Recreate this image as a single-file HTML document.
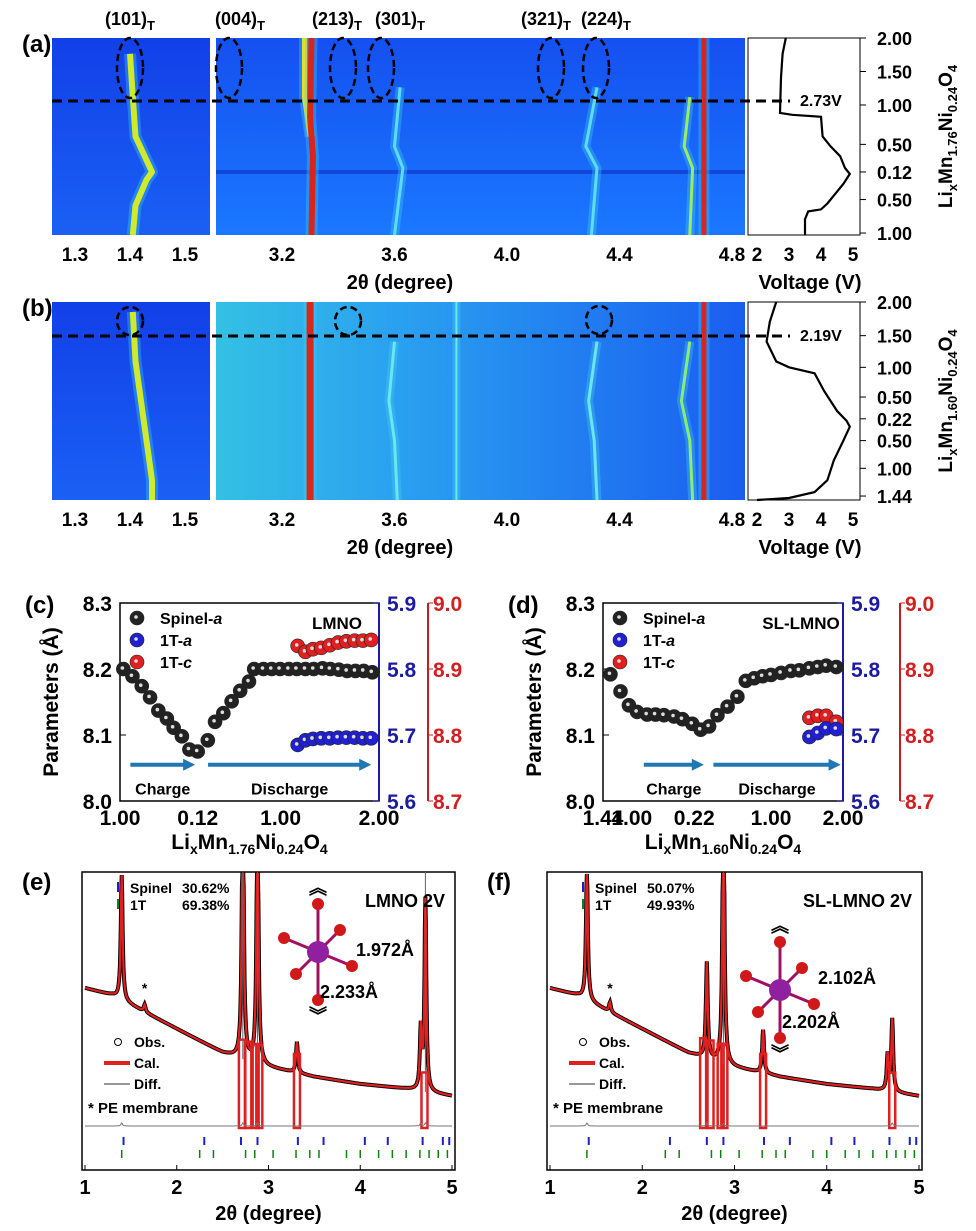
<!DOCTYPE html>
<html><head><meta charset="utf-8"><style>
html,body{margin:0;padding:0;background:#fff;}
svg{display:block;font-family:"Liberation Sans",Arial,sans-serif;}
</style></head><body>
<svg id="fig" width="976" height="1231" viewBox="0 0 976 1231" xmlns="http://www.w3.org/2000/svg">
<defs>
<linearGradient id="bgA" x1="0" y1="0" x2="0" y2="1"><stop offset="0" stop-color="#1550f0"/><stop offset="1" stop-color="#1a78ff"/></linearGradient>
<linearGradient id="bgB" x1="0" y1="0" x2="1" y2="0"><stop offset="0" stop-color="#34c0e4"/><stop offset="0.35" stop-color="#2aa0f0"/><stop offset="1" stop-color="#1a5ef0"/></linearGradient>
<linearGradient id="bgL" x1="0" y1="0" x2="0" y2="1"><stop offset="0" stop-color="#1240e8"/><stop offset="1" stop-color="#1a60f5"/></linearGradient>
</defs>
<g id="root"></g>
</svg>
<script>
// ---------- DATA ----------
var heatTicksL=[1.3,1.4,1.5];
var heatTicksM=[3.2,3.6,4.0,4.4,4.8];
var voltTicks=[2,3,4,5];
var yLabelsA=["2.00","1.50","1.00","0.50","0.12","0.50","1.00"];
var yFracA=[0,0.17,0.34,0.54,0.68,0.82,0.99];
var yLabelsB=["2.00","1.50","1.00","0.50","0.22","0.50","1.00","1.44"];
var yFracB=[0,0.17,0.33,0.48,0.59,0.70,0.84,0.98];
var tracesA=[
 {c:"#d8f020",w:6,p:[[1.40,0.08],[1.405,0.3],[1.41,0.5],[1.44,0.68],[1.43,0.72],[1.41,0.85],[1.405,1]]},
 {c:"#f0e020",w:5,p:[[3.28,0],[3.28,0.3],[3.30,0.5]]},
 {c:"#e02010",w:6,p:[[3.305,0],[3.30,0.4],[3.31,0.6],[3.305,1]]},
 {c:"#60e0f0",w:3,p:[[3.62,0.25],[3.60,0.55],[3.63,0.66],[3.60,1]]},
 {c:"#60e0f0",w:3,p:[[4.32,0.25],[4.28,0.55],[4.32,0.66],[4.30,1]]},
 {c:"#a0f060",w:3,p:[[4.65,0.3],[4.63,0.55],[4.66,0.66],[4.65,1]]},
 {c:"#e02010",w:5,p:[[4.70,0],[4.70,1]]},
 {c:"#60e0f0",w:3,p:[[4.92,0.3],[4.89,0.55],[4.92,0.66],[4.90,1]]}];
var tracesB=[
 {c:"#d8f020",w:6,p:[[1.405,0.05],[1.41,0.3],[1.42,0.5],[1.43,0.7],[1.44,0.9],[1.44,1]]},
 {c:"#e02010",w:7,p:[[3.30,0],[3.30,1]]},
 {c:"#70e8f0",w:3,p:[[3.60,0.2],[3.58,0.5],[3.60,0.7],[3.61,1]]},
 {c:"#70e8f0",w:2,p:[[3.82,0],[3.82,1]]},
 {c:"#70e8f0",w:3,p:[[4.32,0.2],[4.29,0.5],[4.31,0.7],[4.32,1]]},
 {c:"#90f070",w:3,p:[[4.65,0.2],[4.62,0.5],[4.65,0.7],[4.66,1]]},
 {c:"#e02010",w:5,p:[[4.70,0],[4.70,1]]},
 {c:"#70e8f0",w:3,p:[[4.92,0.2],[4.89,0.5],[4.92,0.7],[4.93,1]]}];
var voltA=[[2.9,0],[2.8,0.08],[2.75,0.2],[2.72,0.38],[3.1,0.39],[4.0,0.40],[4.05,0.5],[4.3,0.55],[4.6,0.6],[4.75,0.66],[4.9,0.69],[4.7,0.74],[4.5,0.78],[4.2,0.84],[4.0,0.87],[3.6,0.88],[3.5,0.92],[3.5,1]];
var voltB=[[2.6,0],[2.4,0.1],[2.3,0.2],[2.6,0.3],[3.0,0.33],[3.8,0.36],[4.1,0.45],[4.5,0.55],[4.8,0.6],[4.9,0.63],[4.7,0.7],[4.4,0.8],[4.2,0.9],[3.8,0.96],[3.0,0.99],[2.0,1]];
var cX=[0.013,0.048,0.084,0.116,0.148,0.181,0.207,0.239,0.268,0.3,0.339,0.367,0.399,0.431,0.464,0.498,0.518,0.554,0.586,0.618,0.652,0.683,0.716,0.748,0.782,0.812,0.845,0.877,0.909,0.941,0.974];
var cSpinel=[8.200,8.189,8.174,8.157,8.137,8.125,8.111,8.098,8.078,8.075,8.092,8.120,8.133,8.151,8.167,8.181,8.200,8.200,8.200,8.200,8.200,8.200,8.200,8.200,8.201,8.200,8.199,8.197,8.197,8.197,8.195];
var cTX=[0.686,0.716,0.745,0.777,0.81,0.842,0.874,0.906,0.938,0.97];
var cTa=[5.685,5.692,5.694,5.695,5.695,5.696,5.696,5.696,5.695,5.695];
var cTc=[8.935,8.926,8.930,8.932,8.936,8.940,8.942,8.943,8.943,8.944];
var dX=[0.031,0.073,0.108,0.142,0.184,0.219,0.254,0.296,0.331,0.372,0.407,0.442,0.477,0.519,0.56,0.595,0.63,0.665,0.7,0.742,0.783,0.818,0.86,0.895,0.93,0.972];
var dSpinel=[8.192,8.166,8.145,8.135,8.131,8.131,8.130,8.128,8.124,8.117,8.108,8.113,8.130,8.143,8.158,8.182,8.186,8.189,8.191,8.194,8.197,8.198,8.201,8.203,8.205,8.203];
var dTX=[0.86,0.895,0.93,0.972];
var dTa=[5.697,5.703,5.710,5.709];
var dTc=[8.826,8.829,8.829,8.820];
var bgX=[1.0,1.3,1.6,2.0,2.5,3.0,3.5,4.0,4.5,5.0];
var bgE=[55,52,46,38,28,22,18,15,13,10];
var bgF=[55,52,46,38,28,22,18,15,13,10];
var pkE=[[1.40,52],[1.65,3],[2.72,120],[2.88,115],[3.31,13],[4.66,25],[4.71,80]];
var pkF=[[1.40,55],[1.65,4],[2.70,40],[2.88,120],[3.31,18],[4.66,15],[4.71,30]];
var dipE=[2.71,2.78,2.86,2.90,3.31,4.70];
var dipF=[2.66,2.74,2.85,2.89,3.31,4.71];
var tickSp=[1.42,2.3,2.7,2.88,3.32,3.6,4.05,4.3,4.68,4.9,4.97];
var tick1T=[1.4,2.25,2.4,2.75,2.85,3.05,3.3,3.45,3.55,3.85,4.0,4.2,4.35,4.5,4.65,4.75,4.85,4.95];
var xrdTicks=[1,2,3,4,5];

// ---------- HELPERS ----------
var NS="http://www.w3.org/2000/svg",root=document.getElementById('root');
function el(tag,at,par){var e=document.createElementNS(NS,tag);for(var k in at)e.setAttribute(k,at[k]);(par||root).appendChild(e);return e;}
function txt(x,y,s,sz,anc,col,bold){var t=el('text',{x:x,y:y,'font-size':sz,'text-anchor':anc||'middle',fill:col||'#000','font-weight':bold===false?'normal':'bold'});t.innerHTML=s;return t;}
function lin(a,b,c,d){return function(v){return c+(v-a)*(d-c)/(b-a);};}

// ---------- HEATMAP PANELS ----------
function heat(top,bot,traces,volt,labs,fr,bg,dashY,ell,vtxt,lbl,ylab,hline){
  var ys=lin(0,1,top,bot);
  var xl=lin(1.3,1.5,75,185), xm=lin(3.2,4.8,282,732), xv=lin(2,5,757,853);
  var r1=el('rect',{x:52,y:top,width:158,height:bot-top,fill:'url(#bgL)'});
  
  
  var r2=el('rect',{x:216,y:top,width:529,height:bot-top,fill:bg});
  
  
  if(hline){el('line',{x1:216,y1:ys(hline),x2:745,y2:ys(hline),stroke:'#1030c0','stroke-width':4,opacity:0.6});}
  traces.forEach(function(t){
    var lo=t.p[0][0]<2;var f=lo?xl:xm;
    var pts=t.p.map(function(p){return f(p[0]).toFixed(1)+','+ys(p[1]).toFixed(1);}).join(' ');
    el('polyline',{points:pts,fill:'none',stroke:'#40d0f0','stroke-width':t.w+6,'stroke-linejoin':'round',opacity:0.35});
    var g=el('polyline',{points:pts,fill:'none',stroke:t.c,'stroke-width':t.w,'stroke-linejoin':'round',opacity:0.95});
    
    
  });
  var vb=el('rect',{x:748,y:top,width:112,height:bot-top,fill:'#fff',stroke:'#000','stroke-width':1});
  
  
  var vp=el('polyline',{points:volt.map(function(p){return xv(p[0]).toFixed(1)+','+ys(p[1]).toFixed(1);}).join(' '),fill:'none',stroke:'#000','stroke-width':2.2});
  
  
  heatTicksL.forEach(function(v){txt(xl(v),bot+26,v.toFixed(1),19);});
  heatTicksM.forEach(function(v){txt(xm(v),bot+26,v.toFixed(1),19);});
  voltTicks.forEach(function(v){txt(xv(v),bot+26,v,19);});
  var xt=txt(400,bot+54,'2θ (degree)',20);
  
  
  var vt=txt(810,bot+54,'Voltage (V)',20);
  
  
  labs.forEach(function(s,i){var y=ys(fr[i]);el('line',{x1:860,y1:y,x2:866,y2:y,stroke:'#000'});txt(912,y+7,s,18,'end');});
  var dl=el('line',{x1:52,y1:dashY,x2:790,y2:dashY,stroke:'#000','stroke-width':3,'stroke-dasharray':'10,6'});
  
  
  txt(800,dashY+5,vtxt,16,'start');
  ell.forEach(function(e){var o=el('ellipse',{cx:e[0],cy:e[1],rx:e[2],ry:e[3],fill:'none',stroke:'#000','stroke-width':2.5,'stroke-dasharray':'7,4'});});
  txt(22,top+14,lbl,24,'start');
  var yl=txt(0,0,ylab,19);yl.setAttribute('transform','translate(952,'+((top+bot)/2)+') rotate(-90)');
  
  
}
heat(38,235,tracesA,voltA,yLabelsA,yFracA,'url(#bgA)',101,[[130,68,13,30],[229,68,13,30],[343,68,13,30],[381,68,13,30],[551,68,13,30],[596,68,13,30]],'2.73V','(a)','Li<tspan font-size="13" dy="5">x</tspan><tspan dy="-5">Mn</tspan><tspan font-size="13" dy="5">1.76</tspan><tspan dy="-5">Ni</tspan><tspan font-size="13" dy="5">0.24</tspan><tspan dy="-5">O</tspan><tspan font-size="13" dy="5">4</tspan>',0.68);
heat(302,500,tracesB,voltB,yLabelsB,yFracB,'url(#bgB)',336,[[130,321,13,14],[348,321,13,14],[599,320,13,14]],'2.19V','(b)','Li<tspan font-size="13" dy="5">x</tspan><tspan dy="-5">Mn</tspan><tspan font-size="13" dy="5">1.60</tspan><tspan dy="-5">Ni</tspan><tspan font-size="13" dy="5">0.24</tspan><tspan dy="-5">O</tspan><tspan font-size="13" dy="5">4</tspan>',0);
var pt=[["(101)",130],["(004)",240],["(213)",337],["(301)",400],["(321)",546],["(224)",606]];
pt.forEach(function(p){txt(p[1],25,p[0]+'<tspan font-size="13" dy="5">T</tspan>',18);});

// ---------- LATTICE PANELS ----------
function lat(x0,x1,redX,lbl,name,xs,sp,tx,ta,tc,xl,sub,arrows){
  var top=603,bot=801;
  var X=lin(0,1,x0,x1),Y=lin(8.0,8.3,bot,top),YB=lin(5.6,5.9,bot,top),YR=lin(8.7,9.0,bot,top);
  var fr=el('rect',{x:x0,y:top,width:x1-x0,height:bot-top,fill:'none',stroke:'#000','stroke-width':1.5});
  
  el('line',{x1:x1,y1:top,x2:x1,y2:bot,stroke:'#1c1ca0','stroke-width':2});
  el('line',{x1:redX,y1:top,x2:redX,y2:bot,stroke:'#c02020','stroke-width':2});
  [8.0,8.1,8.2,8.3].forEach(function(v){txt(x0-8,Y(v)+8,v.toFixed(1),21,'end');el('line',{x1:x0,y1:Y(v),x2:x0+6,y2:Y(v),stroke:'#000'});});
  [5.6,5.7,5.8,5.9].forEach(function(v){txt(x1+8,YB(v)+8,v.toFixed(1),21,'start','#1c1ca0');el('line',{x1:x1,y1:YB(v),x2:x1-6,y2:YB(v),stroke:'#1c1ca0'});});
  [8.7,8.8,8.9,9.0].forEach(function(v){txt(redX+5,YR(v)+8,v.toFixed(1),21,'start','#d02020');el('line',{x1:redX,y1:YR(v),x2:redX+5,y2:YR(v),stroke:'#c02020'});});
  xl.forEach(function(s){txt(x0+s[1]*(x1-x0),bot+24,s[0],21);});
  var yt=txt(0,0,'Parameters (Å)',21);yt.setAttribute('transform','translate('+(x0-62)+','+((top+bot)/2)+') rotate(-90)');
  
  var xt=txt((x0+x1)/2,bot+48,'Li<tspan font-size="14" dy="5">x</tspan><tspan dy="-5">Mn</tspan><tspan font-size="14" dy="5">'+sub+'</tspan><tspan dy="-5">Ni</tspan><tspan font-size="14" dy="5">0.24</tspan><tspan dy="-5">O</tspan><tspan font-size="14" dy="5">4</tspan>',21);
  
  function dot(x,y,c,n){var d=el('circle',{cx:x,cy:y,r:7,fill:c,stroke:'#222','stroke-width':0.6});el('circle',{cx:x-1,cy:y-1,r:1.8,fill:'#ddd'});}
  xs.forEach(function(v,i){dot(X(v),Y(sp[i]),'#222','spinel-a-point');});
  tx.forEach(function(v,i){dot(X(v),YR(tc[i]),'#e02020','1t-c-point');});
  tx.forEach(function(v,i){dot(X(v),YB(ta[i]),'#2020d0','1t-a-point');});
  [['Spinel-<tspan font-style="italic">a</tspan>','#222'],['1T-<tspan font-style="italic">a</tspan>','#2020d0'],['1T-<tspan font-style="italic">c</tspan>','#e02020']].forEach(function(l,i){
    var y=top+15+i*22;dot(x0+17,y,l[1],'legend-marker');txt(x0+40,y+6,l[0],16,'start');});
  txt(x1-42,top+26,name,17,'middle');
  arrows.forEach(function(a){var ax=X(a[0]),bx=X(a[1]),ay=Y(8.055);
    el('line',{x1:ax,y1:ay,x2:bx-10,y2:ay,stroke:'#1f77b4','stroke-width':4});
    el('polygon',{points:(bx-12)+','+(ay-6)+' '+bx+','+ay+' '+(bx-12)+','+(ay+6),fill:'#1f77b4'});
    txt((ax+bx)/2,ay+30,a[2],16);});
  txt(x0-95,top+10,lbl,24,'start');
}
lat(120,379,428,'(c)','LMNO',cX,cSpinel,cTX,cTa,cTc,[["1.00",0],["0.12",0.3],["1.00",0.62],["2.00",1]],'1.76',[[0.04,0.29,'Charge'],[0.34,0.97,'Discharge']]);
lat(603,843,900,'(d)','SL-LMNO',dX,dSpinel,dTX,dTa,dTc,[["1.44",0],["1.00",0.12],["0.22",0.38],["1.00",0.7],["2.00",1]],'1.60',[[0.17,0.42,'Charge'],[0.46,0.99,'Discharge']]);

// ---------- XRD PANELS ----------
function xrd(x0,x1,bg,pk,dips,lbl,sp,t1,name,ang1,ang2,oct){
  var top=872,bot=1170,X=lin(1,5,x0+3,x0+3+(x1-x0-6)),I=function(v){return 1120-v*2.4;};
  var box=el('rect',{x:x0,y:top,width:x1-x0,height:bot-top,fill:'none',stroke:'#000','stroke-width':1.5});
  
  function bgAt(t){for(var i=0;i<bgX.length-1;i++)if(t<=bgX[i+1])return bg[i]+(bg[i+1]-bg[i])*(t-bgX[i])/(bgX[i+1]-bgX[i]);return bg[bg.length-1];}
  var pts=[];for(var t=1;t<=5.0001;t+=0.005){var v=bgAt(t);pk.forEach(function(p){v+=p[1]/(1+Math.pow((t-p[0])/0.012,2));});pts.push([X(t),Math.max(top+2,I(v))]);}
  var ps=pts.map(function(p){return p[0].toFixed(1)+','+p[1].toFixed(1);}).join(' ');
  var o=el('polyline',{points:ps,fill:'none',stroke:'#000','stroke-width':4});
  dips.forEach(function(d){var x=X(d);var r=el('rect',{x:x-3,y:I(bgAt(d)+8),width:6,height:1128-I(bgAt(d)+8),fill:'none',stroke:'#e02020','stroke-width':2.5});});
  var c=el('polyline',{points:ps,fill:'none',stroke:'#e02020','stroke-width':2.2});
  pk.forEach(function(p){if(p[1]>60){el('line',{x1:X(p[0]),y1:top,x2:X(p[0]),y2:I(bgAt(p[0])),stroke:'#666','stroke-width':1});}});
  var df=el('polyline',{points:pts.map(function(p,i){var t=1+i*0.005,n=0;pk.forEach(function(q){n+=(q[1]>20?3:0)/(1+Math.pow((t-q[0])/0.01,2));});return p[0].toFixed(1)+','+(1126-n).toFixed(1);}).join(' '),fill:'none',stroke:'#777','stroke-width':1});
  
  sp.forEach(function(v){el('line',{x1:X(v),y1:1137,x2:X(v),y2:1145,stroke:'#2020c0','stroke-width':2});});
  t1.forEach(function(v){el('line',{x1:X(v),y1:1150,x2:X(v),y2:1158,stroke:'#108010','stroke-width':1.5});});
  xrdTicks.forEach(function(v){el('line',{x1:X(v),y1:bot,x2:X(v),y2:bot-5,stroke:'#000'});txt(X(v),bot+24,v,20);});
  var xt=txt((x0+x1)/2,bot+50,'2θ (degree)',20);
  txt(x0-60,top+18,lbl,24,'start');
  el('line',{x1:x0+36,y1:top+10,x2:x0+36,y2:top+20,stroke:'#2020c0','stroke-width':2});
  el('line',{x1:x0+36,y1:top+27,x2:x0+36,y2:top+37,stroke:'#108010','stroke-width':2});
  txt(x0+48,top+21,'Spinel',14,'start');txt(x0+100,top+21,ang1,14,'start');
  txt(x0+48,top+38,'1T',14,'start');txt(x0+100,top+38,ang2,14,'start');
  txt(x1-10,top+35,name,18,'end');
  el('circle',{cx:x0+36,cy:1042,r:3.5,fill:'none',stroke:'#000'});txt(x0+52,1047,'Obs.',14,'start');
  el('line',{x1:x0+22,y1:1063,x2:x0+48,y2:1063,stroke:'#e02020','stroke-width':4});txt(x0+52,1068,'Cal.',14,'start');
  el('line',{x1:x0+22,y1:1084,x2:x0+48,y2:1084,stroke:'#777','stroke-width':1.5});txt(x0+52,1089,'Diff.',14,'start');
  txt(x0+6,1113,'* PE membrane',15,'start');
  txt(X(1.65),I(bgAt(1.65)+8),'*',14);
  var cx=oct[0],cy=oct[1];
  var arms=[[0,-48],[0,48],[-34,-14],[-22,22],[34,14],[22,-22]];
  var g=el('g',{});
  arms.forEach(function(a){el('line',{x1:cx,y1:cy,x2:cx+a[0],y2:cy+a[1],stroke:'#a01060','stroke-width':3},g);});
  arms.forEach(function(a){el('circle',{cx:cx+a[0],cy:cy+a[1],r:6,fill:'#d01818'},g);});
  el('circle',{cx:cx,cy:cy,r:11,fill:'#9020a0'},g);
  txt(cx,cy-58,'︽',18);txt(cx,cy+70,'︾',18);
  txt(cx+38,cy+14+oct[2],oct[3],18,'start');txt(cx+2,cy+50+oct[4],oct[5],18,'start');
}
xrd(82,455,bgE,pkE,dipE,'(e)',tickSp,tick1T,'LMNO 2V','30.62%','69.38%',[318,952,-10,'1.972Å',-4,'2.233Å']);
xrd(547,922,bgF,pkF,dipF,'(f)',tickSp,tick1T,'SL-LMNO 2V','50.07%','49.93%',[780,990,-20,'2.102Å',-12,'2.202Å']);
</script>
</body></html>
